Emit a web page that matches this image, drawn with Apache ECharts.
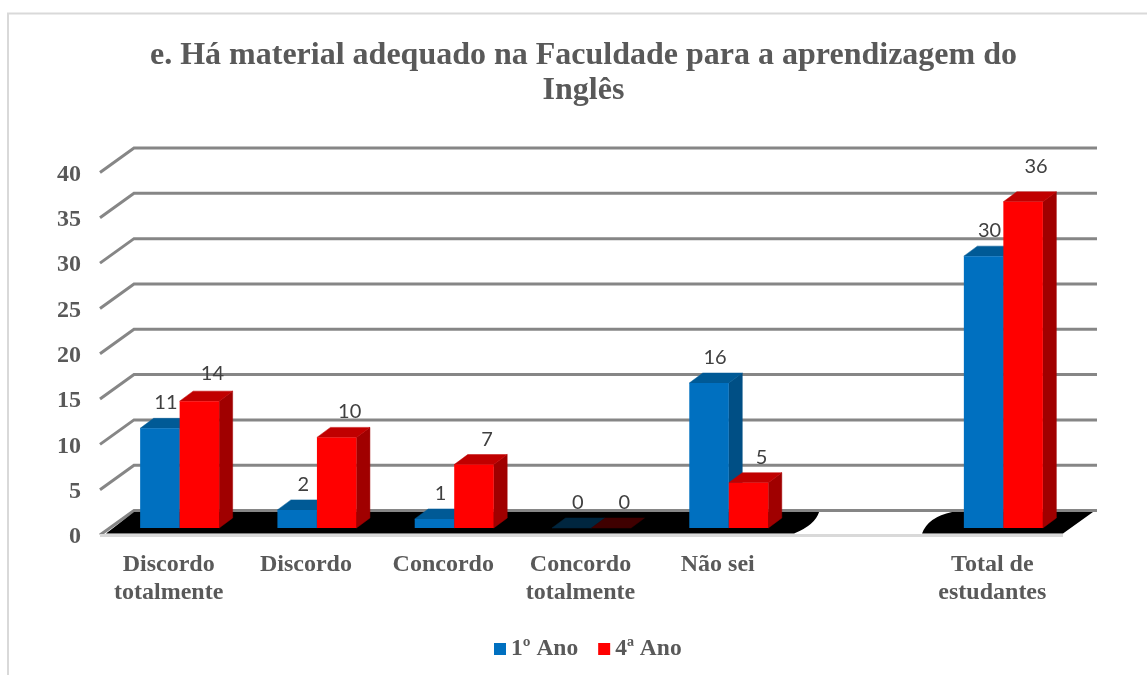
<!DOCTYPE html>
<html>
<head>
<meta charset="utf-8">
<style>html,body{margin:0;padding:0;background:#fff;overflow:hidden}#c{width:1147px;height:675px}</style>
<script src="https://cdn.jsdelivr.net/npm/echarts@6/dist/echarts.min.js"></script>
</head>
<body>
<div id="c"></div>
<script>
const titleText = 'e. Há material adequado na Faculdade para a aprendizagem do\nInglês';
const categories = ['Discordo\ntotalmente','Discordo','Concordo','Concordo\ntotalmente','Não sei','','Total de\nestudantes'];
const firstYear = [11,2,1,0,16,null,30];
const fourthYear = [14,10,7,0,5,null,36];
const yTicks = [0,5,10,15,20,25,30,35,40];
const seriesNames = ['1º Ano','4ª Ano'];

const SERIF = '"Liberation Serif","Times New Roman",serif';
const TXT = '#595959';
const palette = [
  {front:'#0070c0', top:'#005a96', side:'#004f85', zeroTop:'#00263f'},
  {front:'#ff0000', top:'#c00000', side:'#a00000', zeroTop:'#3f0000'}
];
const DEPTH_X = 34, DEPTH_Y = 24.5;      // full floor depth
const BAR_DX = 13.5, BAR_DY = 10;        // bar depth
const BASE_X = 11, BASE_Y = 7;           // bars stand mid-floor
const BAR_W = 39.5;
const RIGHT_EXTRA = 2;

function poly(points, fill){
  return {type:'polygon', shape:{points}, style:{fill, stroke:fill, lineWidth:0.5}};
}
function labelLift(v){
  if (v === 36) return 35.5;   // hand-moved labels in the original
  if (v === 14) return 27.5;
  return 25.5;
}
function barRender(idx){
  return function(params, api){
    const cat = api.value(0), v = api.value(1);
    if (isNaN(v)) return;
    const p0 = api.coord([cat,0]), pv = api.coord([cat,v]);
    const c = p0[0] + BASE_X;
    const x0 = idx === 0 ? c - BAR_W : c, x1 = x0 + BAR_W;
    const yb = p0[1] - BASE_Y, yt = pv[1] - BASE_Y;
    const pal = palette[idx];
    const children = [];
    if (v > 0) {
      children.push(poly([[x1,yt],[x1+BAR_DX,yt-BAR_DY],[x1+BAR_DX,yb-BAR_DY],[x1,yb]], pal.side));
      children.push(poly([[x0,yt],[x0+BAR_DX,yt-BAR_DY],[x1+BAR_DX,yt-BAR_DY],[x1,yt]], pal.top));
      children.push({type:'rect', shape:{x:x0,y:yt,width:BAR_W,height:yb-yt}, style:{fill:pal.front}});
    } else {
      children.push(poly([[x0,yb],[x0+BAR_DX,yb-BAR_DY],[x1+BAR_DX,yb-BAR_DY],[x1,yb]], pal.zeroTop));
    }
    children.push({type:'text', z2:50, style:{
      text:String(v), x:(x0+x1)/2 + (idx === 0 ? 6 : 13), y:yt - labelLift(v),
      align:'center', verticalAlign:'middle',
      font:'20px Lato,"Open Sans",sans-serif', fill:'#404040'
    }});
    return {type:'group', children};
  };
}
function gridRender(params, api){
  const v = api.value(0);
  const cs = params.coordSys;
  const y = api.coord([0,v])[1];
  const x = cs.x, xr = cs.x + cs.width + RIGHT_EXTRA + DEPTH_X;
  return {type:'group', children:[
    {type:'polyline', shape:{points:[[x,y],[x+DEPTH_X,y-DEPTH_Y],[xr,y-DEPTH_Y]]},
      style:{stroke:'#868686', lineWidth:3, fill:null}},
    {type:'text', style:{text:String(v), x:x-19, y:y+2, align:'right', verticalAlign:'middle',
      font:'bold 24px '+SERIF, fill:TXT}}
  ]};
}
function floorRender(params, api){
  const cs = params.coordSys;
  const y0 = api.coord([0,0])[1];
  const gc = api.coord([5,0])[0];
  const yb = y0 - 1.5, yt = y0 - DEPTH_Y + 1.5;
  const xl = cs.x, xr = cs.x + cs.width + RIGHT_EXTRA;
  const d = 'M'+(xl+DEPTH_X)+' '+yt+' L'+(gc-36)+' '+yt+' Q'+(gc-40)+' '+(yt+13)+' '+(gc-61)+' '+yb+
    ' L'+(xl+6)+' '+yb+' Z M'+(gc+97)+' '+yt+' L'+(xr+DEPTH_X-4)+' '+yt+' L'+xr+' '+yb+' L'+(gc+67)+' '+yb+
    ' Q'+(gc+73)+' '+(yt+5)+' '+(gc+97)+' '+yt+' Z';
  return {type:'group', children:[
    {type:'line', shape:{x1:xl,y1:y0+0.5,x2:xr,y2:y0+0.5}, style:{stroke:'#d9d9d9', lineWidth:3}},
    {type:'path', shape:{pathData:d}, style:{fill:'#000'}}
  ]};
}

const chart = echarts.init(document.getElementById('c'), null, {renderer:'canvas'});
chart.setOption({
  animation:false,
  backgroundColor:'#fff',
  title:{
    text:titleText, left:578.5, top:33, textAlign:'center',
    textStyle:{fontFamily:SERIF, fontWeight:'bold', fontSize:32, lineHeight:35, color:TXT}
  },
  legend:{
    data:seriesNames.map((n,i)=>({name:n, itemStyle:{color:palette[i].front}})),
    left:489, top:632, icon:'rect', itemWidth:12, itemHeight:12, itemGap:20,
    textStyle:{fontFamily:SERIF, fontWeight:'bold', fontSize:23.5, color:TXT}
  },
  grid:{left:100, top:172.5, width:961, height:362.5, containLabel:false},
  xAxis:{
    type:'category', boundaryGap:true,
    data:categories,
    axisLine:{show:false}, axisTick:{show:false},
    axisLabel:{interval:0, margin:16, fontFamily:SERIF, fontWeight:'bold', fontSize:24, lineHeight:28, color:TXT}
  },
  yAxis:{
    type:'value', min:0, max:40, interval:5,
    axisLine:{show:false}, axisTick:{show:false}, splitLine:{show:false},
    axisLabel:{show:false}
  },
  graphic:[{type:'polyline', silent:true, z:-1,
    shape:{points:[[8,680],[8,13.5],[1150,13.5]]},
    style:{stroke:'#d9d9d9', lineWidth:2, fill:null}}],
  series:[
    {type:'custom', name:'grid', silent:true, z:1, data:yTicks.map(v=>[v]), encode:{x:-1,y:0}, renderItem:gridRender},
    {type:'custom', name:'floor', silent:true, z:2, data:[[0]], encode:{x:-1,y:0}, renderItem:floorRender},
    {type:'custom', name:seriesNames[0], z:3, data:firstYear.map((v,i)=>[i,v]), encode:{x:0,y:1},
      itemStyle:{color:palette[0].front}, renderItem:barRender(0)},
    {type:'custom', name:seriesNames[1], z:4, data:fourthYear.map((v,i)=>[i,v]), encode:{x:0,y:1},
      itemStyle:{color:palette[1].front}, renderItem:barRender(1)}
  ]
});
</script>
</body>
</html>
